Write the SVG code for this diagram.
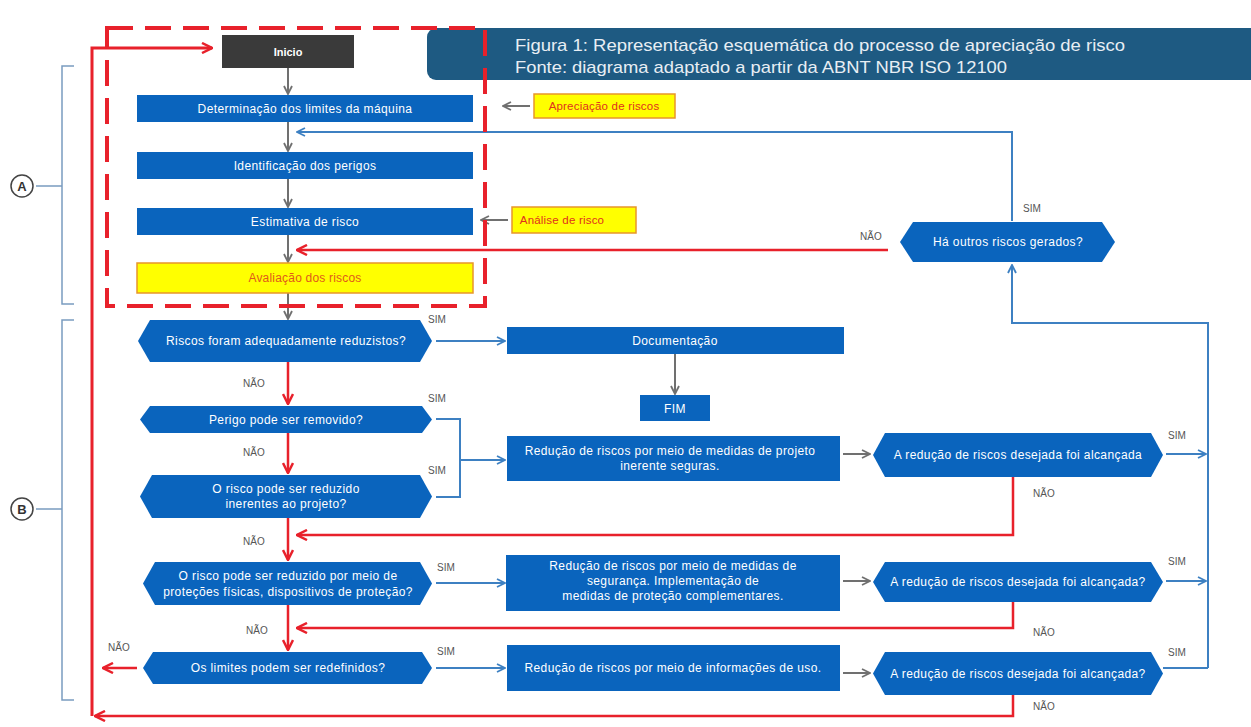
<svg xmlns="http://www.w3.org/2000/svg" width="1251" height="727" viewBox="0 0 1251 727">
<defs>
<style>
.t{font-family:"Liberation Sans",Arial,sans-serif;font-size:12px;letter-spacing:0.4px;fill:#ffffff;text-anchor:middle}
.lb{font-family:"Liberation Sans",Arial,sans-serif;font-size:10px;fill:#555555}
.bx{fill:#0a64bd}
.yl{fill:#ffff00;stroke:#e8962a;stroke-width:1.5}
.yt{font-family:"Liberation Sans",Arial,sans-serif;font-size:11.5px;letter-spacing:0.2px;fill:#e0301e;text-anchor:middle}
.gl{stroke:#707070;stroke-width:2;fill:none}
.bl{stroke:#3d80c2;stroke-width:2;fill:none}
.rl{stroke:#e8212b;stroke-width:2.5;fill:none}
.br{stroke:#7a9cc0;stroke-width:1.5;fill:none}
.ti{font-family:"Liberation Sans",Arial,sans-serif;font-size:17px;fill:#e8eef4}
</style>
<marker id="mg" viewBox="0 0 10 10" refX="9" refY="5" markerWidth="10" markerHeight="10" orient="auto" markerUnits="userSpaceOnUse"><path d="M1,1 L9,5 L1,9" fill="none" stroke="#707070" stroke-width="1.8"/></marker>
<marker id="mb" viewBox="0 0 10 10" refX="9" refY="5" markerWidth="10" markerHeight="10" orient="auto" markerUnits="userSpaceOnUse"><path d="M1,1 L9,5 L1,9" fill="none" stroke="#3d80c2" stroke-width="1.8"/></marker>
<marker id="mr" viewBox="0 0 12 12" refX="11" refY="6" markerWidth="12" markerHeight="12" orient="auto" markerUnits="userSpaceOnUse"><path d="M1,1 L11,6 L1,11" fill="none" stroke="#e8212b" stroke-width="2.5"/></marker>
</defs>
<rect x="0" y="0" width="1251" height="727" fill="#ffffff"/>

<g id="title">
<rect x="427" y="28" width="840" height="52" rx="9" fill="#1e5a82"/>
<text class="ti" x="515" y="51" textLength="610" lengthAdjust="spacingAndGlyphs">Figura 1: Representação esquemática do processo de apreciação de risco</text>
<text class="ti" x="515" y="73" textLength="492" lengthAdjust="spacingAndGlyphs">Fonte: diagrama adaptado a partir da ABNT NBR ISO 12100</text>
</g>

<g id="braceA">
<path class="br" d="M74,66 H62 V304 H74 M62,186 H36"/>
<circle cx="22" cy="186" r="11" fill="#fff" stroke="#444" stroke-width="1.5"/>
<text x="22" y="191" style="font-family:'Liberation Sans',Arial,sans-serif;font-size:13px;font-weight:bold;fill:#333;text-anchor:middle">A</text>
</g>
<g id="braceB">
<path class="br" d="M74,320 H62 V700 H74 M62,509 H36"/>
<circle cx="22" cy="509" r="11" fill="#fff" stroke="#444" stroke-width="1.5"/>
<text x="22" y="514" style="font-family:'Liberation Sans',Arial,sans-serif;font-size:13px;font-weight:bold;fill:#333;text-anchor:middle">B</text>
</g>

<g id="connectors">
<line class="gl" x1="288" y1="68" x2="288" y2="94" marker-end="url(#mg)"/>
<line class="gl" x1="288" y1="122" x2="288" y2="151" marker-end="url(#mg)"/>
<line class="gl" x1="288" y1="179" x2="288" y2="207" marker-end="url(#mg)"/>
<line class="gl" x1="288" y1="235" x2="288" y2="262" marker-end="url(#mg)"/>
<line class="gl" x1="288" y1="293" x2="288" y2="319" marker-end="url(#mg)"/>
<line class="gl" x1="530" y1="106" x2="503" y2="106" marker-end="url(#mg)"/>
<line class="gl" x1="508" y1="220" x2="481" y2="220" marker-end="url(#mg)"/>
<line class="gl" x1="675" y1="354" x2="675" y2="394" marker-end="url(#mg)"/>
<line class="gl" x1="843" y1="454" x2="870" y2="454" marker-end="url(#mg)"/>
<line class="gl" x1="843" y1="581" x2="870" y2="581" marker-end="url(#mg)"/>
<line class="gl" x1="843" y1="673" x2="870" y2="673" marker-end="url(#mg)"/>
<path class="bl" d="M1012,221 V132 H297" marker-end="url(#mb)"/>
<path class="bl" d="M1208,668 V323 H1012 V265" marker-end="url(#mb)"/>
<line class="bl" x1="1163" y1="668" x2="1208" y2="668"/>
<line class="bl" x1="436" y1="341" x2="505" y2="341" marker-end="url(#mb)"/>
<path class="bl" d="M436,419 H460 V497 H436 M460,460 H505" marker-end="url(#mb)"/>
<line class="bl" x1="436" y1="583" x2="505" y2="583" marker-end="url(#mb)"/>
<line class="bl" x1="436" y1="668" x2="505" y2="668" marker-end="url(#mb)"/>
<line class="bl" x1="1166" y1="454" x2="1206" y2="454" marker-end="url(#mb)"/>
<line class="bl" x1="1166" y1="581" x2="1206" y2="581" marker-end="url(#mb)"/>
<line class="rl" x1="888" y1="250" x2="297" y2="250" marker-end="url(#mr)"/>
<line class="rl" x1="288" y1="362" x2="288" y2="404" marker-end="url(#mr)"/>
<line class="rl" x1="288" y1="433" x2="288" y2="473" marker-end="url(#mr)"/>
<line class="rl" x1="288" y1="518" x2="288" y2="560" marker-end="url(#mr)"/>
<line class="rl" x1="288" y1="605" x2="288" y2="650" marker-end="url(#mr)"/>
<path class="rl" d="M1013,477 V535 H297" marker-end="url(#mr)"/>
<path class="rl" d="M1013,602 V628 H297" marker-end="url(#mr)"/>
<path class="rl" d="M1013,695 V716 H95" marker-end="url(#mr)"/>
<line class="rl" x1="137" y1="668" x2="103" y2="668" marker-end="url(#mr)"/>
<path class="rl" d="M92,716 V48 H212" marker-end="url(#mr)" style="stroke-width:3"/>
</g>

<g id="labels">
<text class="lb" x="1023" y="212">SIM</text>
<text class="lb" x="860" y="240">NÃO</text>
<text class="lb" x="428" y="323">SIM</text>
<text class="lb" x="243" y="387">NÃO</text>
<text class="lb" x="428" y="402">SIM</text>
<text class="lb" x="243" y="456">NÃO</text>
<text class="lb" x="428" y="474">SIM</text>
<text class="lb" x="243" y="545">NÃO</text>
<text class="lb" x="437" y="571">SIM</text>
<text class="lb" x="246" y="634">NÃO</text>
<text class="lb" x="437" y="655">SIM</text>
<text class="lb" x="108" y="651">NÃO</text>
<text class="lb" x="1168" y="439">SIM</text>
<text class="lb" x="1033" y="497">NÃO</text>
<text class="lb" x="1168" y="565">SIM</text>
<text class="lb" x="1033" y="636">NÃO</text>
<text class="lb" x="1168" y="656">SIM</text>
<text class="lb" x="1033" y="710">NÃO</text>
</g>

<g id="inicio">
<rect x="222" y="35" width="132" height="33" fill="#3a3a3a"/>
<text class="t" x="288" y="56" style="font-weight:bold;font-size:11px;letter-spacing:0">Inicio</text>
</g>
<g id="determinacao">
<rect class="bx" x="137" y="95" width="336" height="27"/>
<text class="t" x="305" y="113">Determinação dos limites da máquina</text>
</g>
<g id="identificacao">
<rect class="bx" x="137" y="152" width="336" height="27"/>
<text class="t" x="305" y="170">Identificação dos perigos</text>
</g>
<g id="estimativa">
<rect class="bx" x="137" y="208" width="336" height="27"/>
<text class="t" x="305" y="226">Estimativa de risco</text>
</g>
<g id="avaliacao">
<rect class="yl" x="137" y="263" width="336" height="30"/>
<text class="yt" x="305" y="282" style="font-size:12px;fill:#e05a1a">Avaliação dos riscos</text>
</g>
<g id="apreciacao">
<rect class="yl" x="534" y="94" width="141" height="24"/>
<text class="yt" x="604" y="110">Apreciação de riscos</text>
</g>
<g id="analise">
<rect class="yl" x="512" y="207" width="124" height="26"/>
<text class="yt" x="562" y="224">Análise de risco</text>
</g>
<g id="dashedA">
<rect x="107" y="28" width="378" height="278" fill="none" stroke="#e8212b" stroke-width="4" stroke-dasharray="26,12"/>
</g>

<g id="ha-outros">
<polygon class="bx" points="900,242 913,222 1102,222 1115,242 1102,262 913,262"/>
<text class="t" x="1008" y="246">Há outros riscos gerados?</text>
</g>
<g id="riscos-reduzidos">
<polygon class="bx" points="138,341 150,320 420,320 432,341 420,362 150,362"/>
<text class="t" x="286" y="345">Riscos foram adequadamente reduzistos?</text>
</g>
<g id="documentacao">
<rect class="bx" x="507" y="327" width="337" height="27"/>
<text class="t" x="675" y="345">Documentação</text>
</g>
<g id="fim">
<rect class="bx" x="640" y="395" width="70" height="26"/>
<text class="t" x="675" y="413">FIM</text>
</g>
<g id="perigo">
<polygon class="bx" points="140,419.5 150,406 422,406 432,419.5 422,433 150,433"/>
<text class="t" x="286" y="424">Perigo pode ser removido?</text>
</g>
<g id="risco-inerente">
<polygon class="bx" points="140,496.5 152,475 420,475 432,496.5 420,518 152,518"/>
<text class="t" x="286" y="493">O risco pode ser reduzido</text>
<text class="t" x="286" y="508">inerentes ao projeto?</text>
</g>
<g id="reducao-projeto">
<rect class="bx" x="507" y="436" width="333" height="45"/>
<text class="t" x="670" y="455">Redução de riscos por meio de medidas de projeto</text>
<text class="t" x="670" y="470">inerente seguras.</text>
</g>
<g id="alcancada-1">
<polygon class="bx" points="873,455 885,433 1151,433 1163,455 1151,477 885,477"/>
<text class="t" x="1018" y="459">A redução de riscos desejada foi alcançada</text>
</g>
<g id="risco-protecoes">
<polygon class="bx" points="143,583.5 155,562 420,562 432,583.5 420,605 155,605"/>
<text class="t" x="288" y="580">O risco pode ser reduzido por meio de</text>
<text class="t" x="288" y="596">proteções físicas, dispositivos de proteção?</text>
</g>
<g id="reducao-seguranca">
<rect class="bx" x="506" y="555" width="334" height="56"/>
<text class="t" x="673" y="570">Redução de riscos por meio de medidas de</text>
<text class="t" x="673" y="585">segurança. Implementação de</text>
<text class="t" x="673" y="600">medidas de proteção complementares.</text>
</g>
<g id="alcancada-2">
<polygon class="bx" points="873,582 885,562 1151,562 1163,582 1151,602 885,602"/>
<text class="t" x="1018" y="586">A redução de riscos desejada foi alcançada?</text>
</g>
<g id="limites">
<polygon class="bx" points="143,668 153,652 422,652 432,668 422,684 153,684"/>
<text class="t" x="288" y="672">Os limites podem ser redefinidos?</text>
</g>
<g id="reducao-informacoes">
<rect class="bx" x="507" y="645" width="333" height="46"/>
<text class="t" x="673" y="672">Redução de riscos por meio de informações de uso.</text>
</g>
<g id="alcancada-3">
<polygon class="bx" points="873,673.5 885,652 1151,652 1163,673.5 1151,695 885,695"/>
<text class="t" x="1018" y="678">A redução de riscos desejada foi alcançada?</text>
</g>
</svg>
